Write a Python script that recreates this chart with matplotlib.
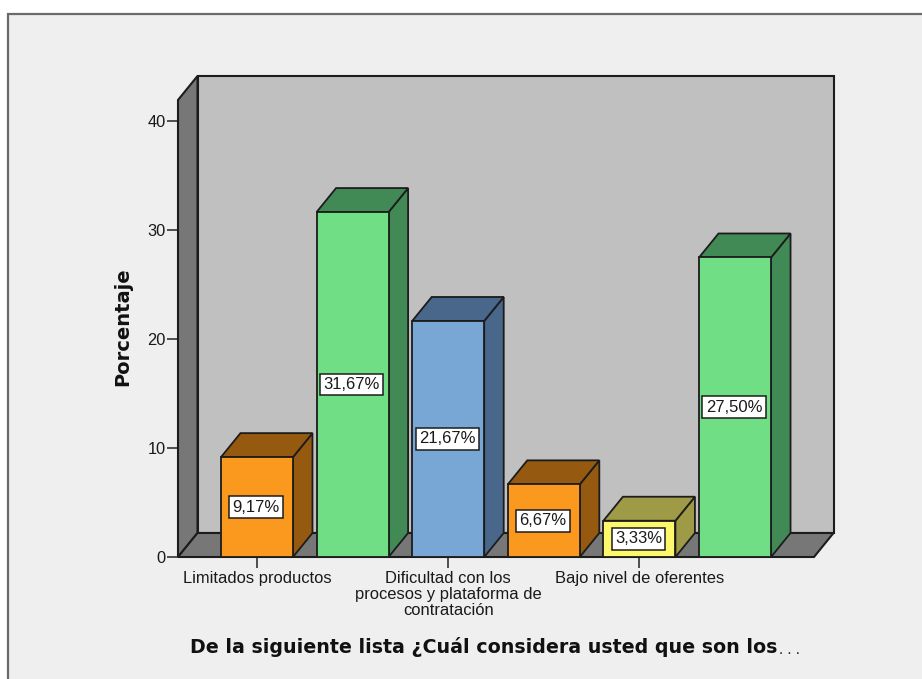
import matplotlib
matplotlib.use('Agg')
import matplotlib.pyplot as plt
from matplotlib.patches import Rectangle

plt.rcParams['font.family'] = ['Liberation Sans', 'DejaVu Sans']

values = [9.17, 31.67, 21.67, 6.67, 3.33, 27.50]
value_labels = ['9,17%', '31,67%', '21,67%', '6,67%', '3,33%', '27,50%']
front_colors = ['#FB981E', '#6FDE84', '#78A7D6', '#FB981E', '#FDF86B', '#6FDE84']
side_colors = ['#95590F', '#428A55', '#48678A', '#95590F', '#9E9A45', '#428A55']
tick_positions = [0, 2, 4]
tick_labels = ['Limitados productos',
               'Dificultad con los\nprocesos y plataforma de\ncontratación',
               'Bajo nivel de oferentes']
y_ticks = [0, 10, 20, 30, 40]

W, H = 922, 679
LINE = '#1c1c1c'

fig = plt.figure(figsize=(W / 100, H / 100), dpi=100, facecolor='white')

# grey panel with the dark frame, open on the right and bottom
fig.patches.append(Rectangle((8 / W, -0.05), 1, 1.05 - 14 / H, transform=fig.transFigure,
                             facecolor='#EFEFEF', edgecolor='#6a6a6a', lw=1.6, zorder=-1))

ax = fig.add_axes([178 / W, 1 - 557 / H, (814 - 178) / W, (557 - 100) / H])
ax.set_xlim(-0.826, 5.826)
ax.set_ylim(0, 41.96)
ax.patch.set_visible(False)
for s in ax.spines.values():
    s.set_visible(False)

# depth of the fake 3d, in data units
dx = 19.5 / 95.6
dy = 24 / 10.89
x0, x1 = ax.get_xlim()
y0, y1 = ax.get_ylim()

# back wall, side wall, floor
ax.fill([x0 + dx, x1 + dx, x1 + dx, x0 + dx], [y0 + dy, y0 + dy, y1 + dy, y1 + dy],
        fc='#C0C0C0', ec=LINE, lw=1.5, clip_on=False, zorder=1)
ax.fill([x0, x0 + dx, x0 + dx, x0], [y0, y0 + dy, y1 + dy, y1],
        fc='#777777', ec=LINE, lw=1.5, clip_on=False, zorder=2)
ax.fill([x0, x1, x1 + dx, x0 + dx], [y0, y0, y0 + dy, y0 + dy],
        fc='#777777', ec=LINE, lw=1.5, clip_on=False, zorder=2)

# bars
bar_w = 72 / 95.6
for i, v in enumerate(values):
    l, r = i - bar_w / 2, i + bar_w / 2
    z = 3 + i
    ax.fill([r, r + dx, r + dx, r], [0, dy, v + dy, v],
            fc=side_colors[i], ec=LINE, lw=1.3, clip_on=False, zorder=z)
    ax.fill([l, r, r + dx, l + dx], [v, v, v + dy, v + dy],
            fc=side_colors[i], ec=LINE, lw=1.3, clip_on=False, zorder=z)
    ax.bar(i, v, width=bar_w, color=front_colors[i], edgecolor=LINE, lw=1.3,
           clip_on=False, zorder=z)
    ax.text(i - 0.01, v / 2, value_labels[i], ha='center', va='center', fontsize=12,
            color='#1a1a1a', zorder=12,
            bbox=dict(boxstyle='square,pad=0.2', fc='white', ec=LINE, lw=1.1))

ax.set_xticks(tick_positions)
ax.set_xticklabels(tick_labels, fontsize=11.9, linespacing=1.08, color='#1a1a1a')
ax.set_yticks(y_ticks)
ax.set_yticklabels(y_ticks, fontsize=11.8, color='#1a1a1a')
ax.tick_params(axis='both', length=8, width=1.2, color='#333333', pad=1)
ax.tick_params(axis='x', pad=2)

ax.set_ylabel('Porcentaje', fontsize=14, fontweight='bold', family='DejaVu Sans',
              color='#111111')
ax.yaxis.set_label_coords(-0.088 + 10 / 636, 0.505)

fig.text(190 / W, 1 - 647 / H, 'De la siguiente lista ¿Cuál considera usted que son los',
         ha='left', va='center', fontsize=13.7, fontweight='bold', family='DejaVu Sans',
         color='#111111')
fig.text(779 / W, 1 - 650 / H, '. . .', ha='left', va='center', fontsize=11, color='#222222')

fig.savefig('out.png', dpi=100, facecolor='white')
